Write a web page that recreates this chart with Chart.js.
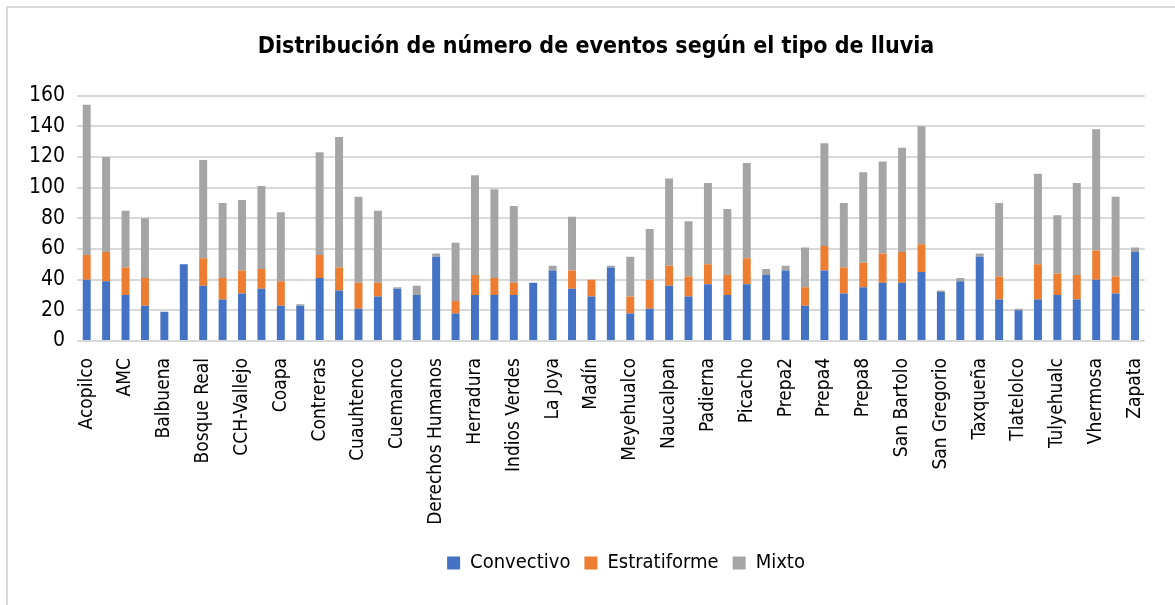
<!DOCTYPE html>
<html>
<head>
<meta charset="utf-8">
<script src="https://cdn.jsdelivr.net/npm/chart.js@4.4.1/dist/chart.umd.min.js"></script>
<style>
  html, body { margin: 0; padding: 0; background: #fff; overflow: hidden; }
  #frame { position: absolute; left: 6px; top: 6px; width: 1300px; height: 700px; border: 2px solid #d9d9d9; box-sizing: border-box; }
  #wrap { position: absolute; left: 0; top: 0; width: 1175px; height: 605px; }
</style>
</head>
<body>
<div id="frame"></div>
<div id="wrap"><canvas id="c" width="1175" height="605"></canvas></div>
<script>
const titleText = 'Distribución de número de eventos según el tipo de lluvia';
const categories = ['Acopilco','Ajusco','AMC','Azcapotzalco','Balbuena','Benito Juárez','Bosque Real','CCH-Sur','CCH-Vallejo','Chapultepec','Coapa','Colegio','Contreras','Cuajimalpa','Cuauhtenco','Cuautepec','Cuemanco','Culhuacán','Derechos Humanos','Ecoguardas','Herradura','Huipulco','Indios Verdes','Iztapalapa','La Joya','Lomas','Madín','Merced','Meyehualco','Milpa Alta','Naucalpan','Nezahualcóyotl','Padierna','Pedregal','Picacho','Prepa1','Prepa2','Prepa3','Prepa4','Prepa6','Prepa8','Prepa9','San Bartolo','San Francisco','San Gregorio','Santa Fe','Taxqueña','Tlalpan','Tlatelolco','Topilejo','Tulyehualc','UAM','Vhermosa','Xochimilco','Zapata'];
const convectivo = [40,39,30,23,19,50,36,27,31,34,23,23,41,33,21,29,34,30,55,18,30,30,30,38,46,34,29,48,18,21,36,29,37,30,37,43,46,23,46,31,35,38,38,45,32,39,55,27,20,27,30,27,40,31,58];
const estratiforme = [16,19,18,18,0,0,18,14,15,13,16,0,15,15,17,9,0,0,0,8,13,11,8,0,0,12,11,0,11,19,13,13,13,13,17,0,0,12,16,17,16,19,20,18,0,0,0,15,0,23,14,16,19,11,0];
const mixto = [98,62,37,39,0,0,64,49,46,54,45,1,67,85,56,47,1,6,2,38,65,58,50,0,3,35,0,1,26,33,57,36,53,43,62,4,3,26,67,42,59,60,68,77,1,2,2,48,1,59,38,60,79,52,3];
const seriesNames = ['Convectivo','Estratiforme','Mixto'];
const yTicks = { min: 0, max: 160, step: 20 };

const FONT = "'DejaVu Sans Condensed', 'Liberation Sans Narrow', 'Roboto', sans-serif";
const colors = ['#4472C4', '#ED7D31', '#A5A5A5'];

const ds = [convectivo, estratiforme, mixto].map((d, i) => ({
  label: seriesNames[i],
  data: d,
  backgroundColor: colors[i],
  borderWidth: 0,
  barPercentage: 0.41,
  categoryPercentage: 1.0,
  stack: 's'
}));

const placeBlocks = {
  id: 'placeBlocks',
  afterLayout(chart) {
    if (chart.titleBlock) { chart.titleBlock.left = 37; chart.titleBlock.right = 1155; }
    if (chart.legend) { chart.legend.left = 97; chart.legend.right = 1155; }
  }
};

new Chart(document.getElementById('c'), {
  type: 'bar',
  data: { labels: categories, datasets: ds },
  plugins: [placeBlocks],
  options: {
    responsive: false,
    animation: false,
    devicePixelRatio: 1,
    layout: { padding: { left: 0, right: 20, top: 0, bottom: 22 } },
    plugins: {
      title: {
        display: true, text: titleText, color: '#000',
        font: { family: FONT, size: 23, weight: 'bold' },
        padding: { top: 33, bottom: 35 }
      },
      legend: {
        position: 'bottom',
        labels: { color: '#000', font: { family: FONT, size: 20 }, boxWidth: 13, boxHeight: 13, padding: 14 }
      },
      tooltip: { enabled: false }
    },
    scales: {
      x: {
        stacked: true,
        grid: { display: false, drawTicks: false },
        border: { display: false },
        ticks: {
          color: '#000', font: { family: FONT, size: 19 },
          minRotation: 90, maxRotation: 90, autoSkip: false, padding: 17,
          callback: function(v, i) { return i % 2 === 0 ? this.getLabelForValue(v) : ''; }
        },
        afterFit: s => { s.height = 198; }
      },
      y: {
        stacked: true,
        min: yTicks.min, max: yTicks.max,
        grid: { color: '#d9d9d9', lineWidth: 2, drawTicks: false },
        border: { display: false },
        ticks: { stepSize: yTicks.step, color: '#000', font: { family: FONT, size: 21 }, padding: 12 },
        afterFit: s => { s.width = 77; }
      }
    }
  }
});
</script>
</body>
</html>
